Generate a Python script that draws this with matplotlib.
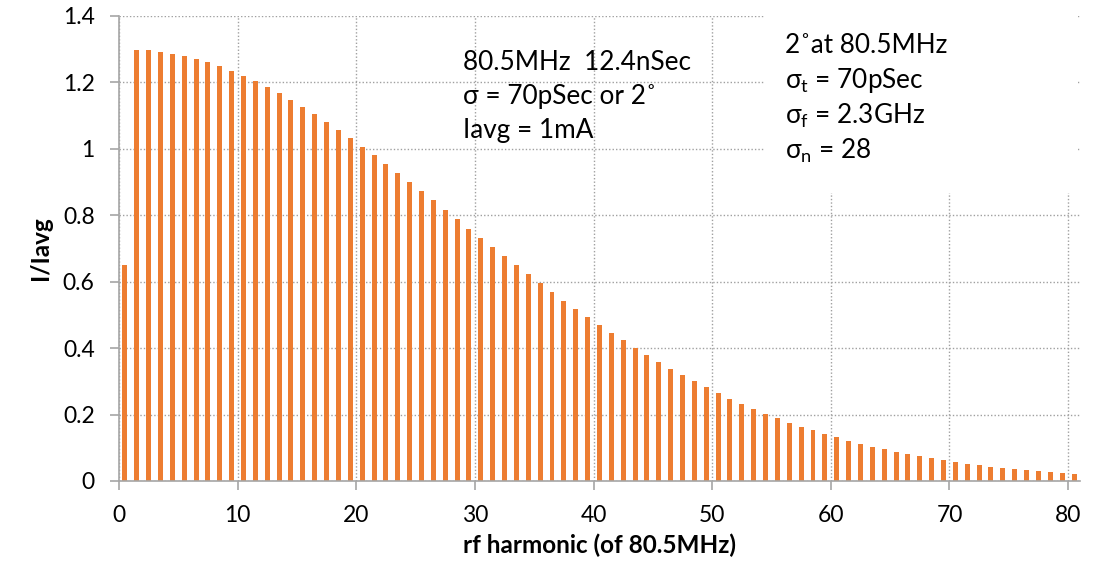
import matplotlib
matplotlib.use('Agg')
import matplotlib.pyplot as plt
from matplotlib.patches import Rectangle

plt.rcParams['font.family'] = ['Lato', 'DejaVu Sans']
plt.rcParams['mathtext.fontset'] = 'custom'
plt.rcParams['mathtext.rm'] = 'Lato'

# harmonic number and I/Iavg
harmonics = list(range(0, 81))
ratio = [0.650,
         1.299, 1.297, 1.293, 1.287, 1.279, 1.270, 1.260, 1.248, 1.235, 1.220,
         1.203, 1.186, 1.167, 1.147, 1.126, 1.104, 1.081, 1.057, 1.033, 1.007,
         0.981, 0.955, 0.928, 0.900, 0.873, 0.845, 0.817, 0.788, 0.760, 0.732,
         0.704, 0.676, 0.649, 0.622, 0.595, 0.569, 0.543, 0.518, 0.493, 0.469,
         0.446, 0.423, 0.401, 0.379, 0.358, 0.338, 0.319, 0.300, 0.282, 0.265,
         0.248, 0.232, 0.217, 0.203, 0.189, 0.176, 0.164, 0.152, 0.141, 0.131,
         0.121, 0.112, 0.103, 0.095, 0.088, 0.081, 0.074, 0.068, 0.062, 0.057,
         0.052, 0.048, 0.043, 0.040, 0.036, 0.033, 0.030, 0.027, 0.024, 0.022]

xticks = [0, 10, 20, 30, 40, 50, 60, 70, 80]
yticks = [0, 0.2, 0.4, 0.6, 0.8, 1.0, 1.2, 1.4]
ytick_labels = ['0', '0.2', '0.4', '0.6', '0.8', '1', '1.2', '1.4']

note_left = ['80.5MHz  12.4nSec', 'σ = 70pSec or 2˚', 'Iavg = 1mA']
note_right = ['2˚at 80.5MHz', 'σ$_\\mathregular{t}$ = 70pSec',
              'σ$_\\mathregular{f}$ = 2.3GHz', 'σ$_\\mathregular{n}$ = 28']

fig = plt.figure(figsize=(11.19, 5.69), dpi=100)
ax = fig.add_axes([0.1063, 0.1547, 0.8588, 0.8172])

ax.bar([h + 0.5 for h in harmonics], ratio, width=0.42, color='#ED7D31', zorder=2)

ax.set_xlim(0, 81)
ax.set_ylim(0, 1.4)
ax.set_xticks(xticks)
ax.set_yticks(yticks)
ax.set_yticklabels(ytick_labels)

ax.set_axisbelow(True)
ax.grid(True, color='#A0A0A0', linestyle=(0, (1, 1.5)), linewidth=1)

for s in ['top', 'right']:
    ax.spines[s].set_visible(False)
for s in ['left', 'bottom']:
    ax.spines[s].set_color('#A6A6A6')
    ax.spines[s].set_linewidth(1.2)
ax.tick_params(axis='both', colors='#A6A6A6', labelcolor='black', labelsize=16.5,
               length=6.5, width=1.2)
ax.tick_params(axis='y', pad=11)
ax.tick_params(axis='x', pad=11)

ax.set_xlabel('rf harmonic (of 80.5MHz)', fontsize=17.5, fontweight='bold', labelpad=5)
ax.set_ylabel('I/Iavg', fontsize=17.5, fontweight='bold', labelpad=8)

# white box behind the right-hand note hides the grid
ax.add_patch(Rectangle((0.672, 0.62), 0.326, 0.45, transform=ax.transAxes,
                       facecolor='white', edgecolor='none', zorder=1, clip_on=False))

for i, line in enumerate(note_left):
    ax.text(29.0, 1.2375 - i * 0.1025, line, fontsize=18.8, va='baseline', zorder=3)
for i, line in enumerate(note_right):
    ax.text(56.1, 1.289 - i * 0.1065, line, fontsize=18.8, va='baseline', zorder=3)

fig.savefig('out.png', dpi=100)
